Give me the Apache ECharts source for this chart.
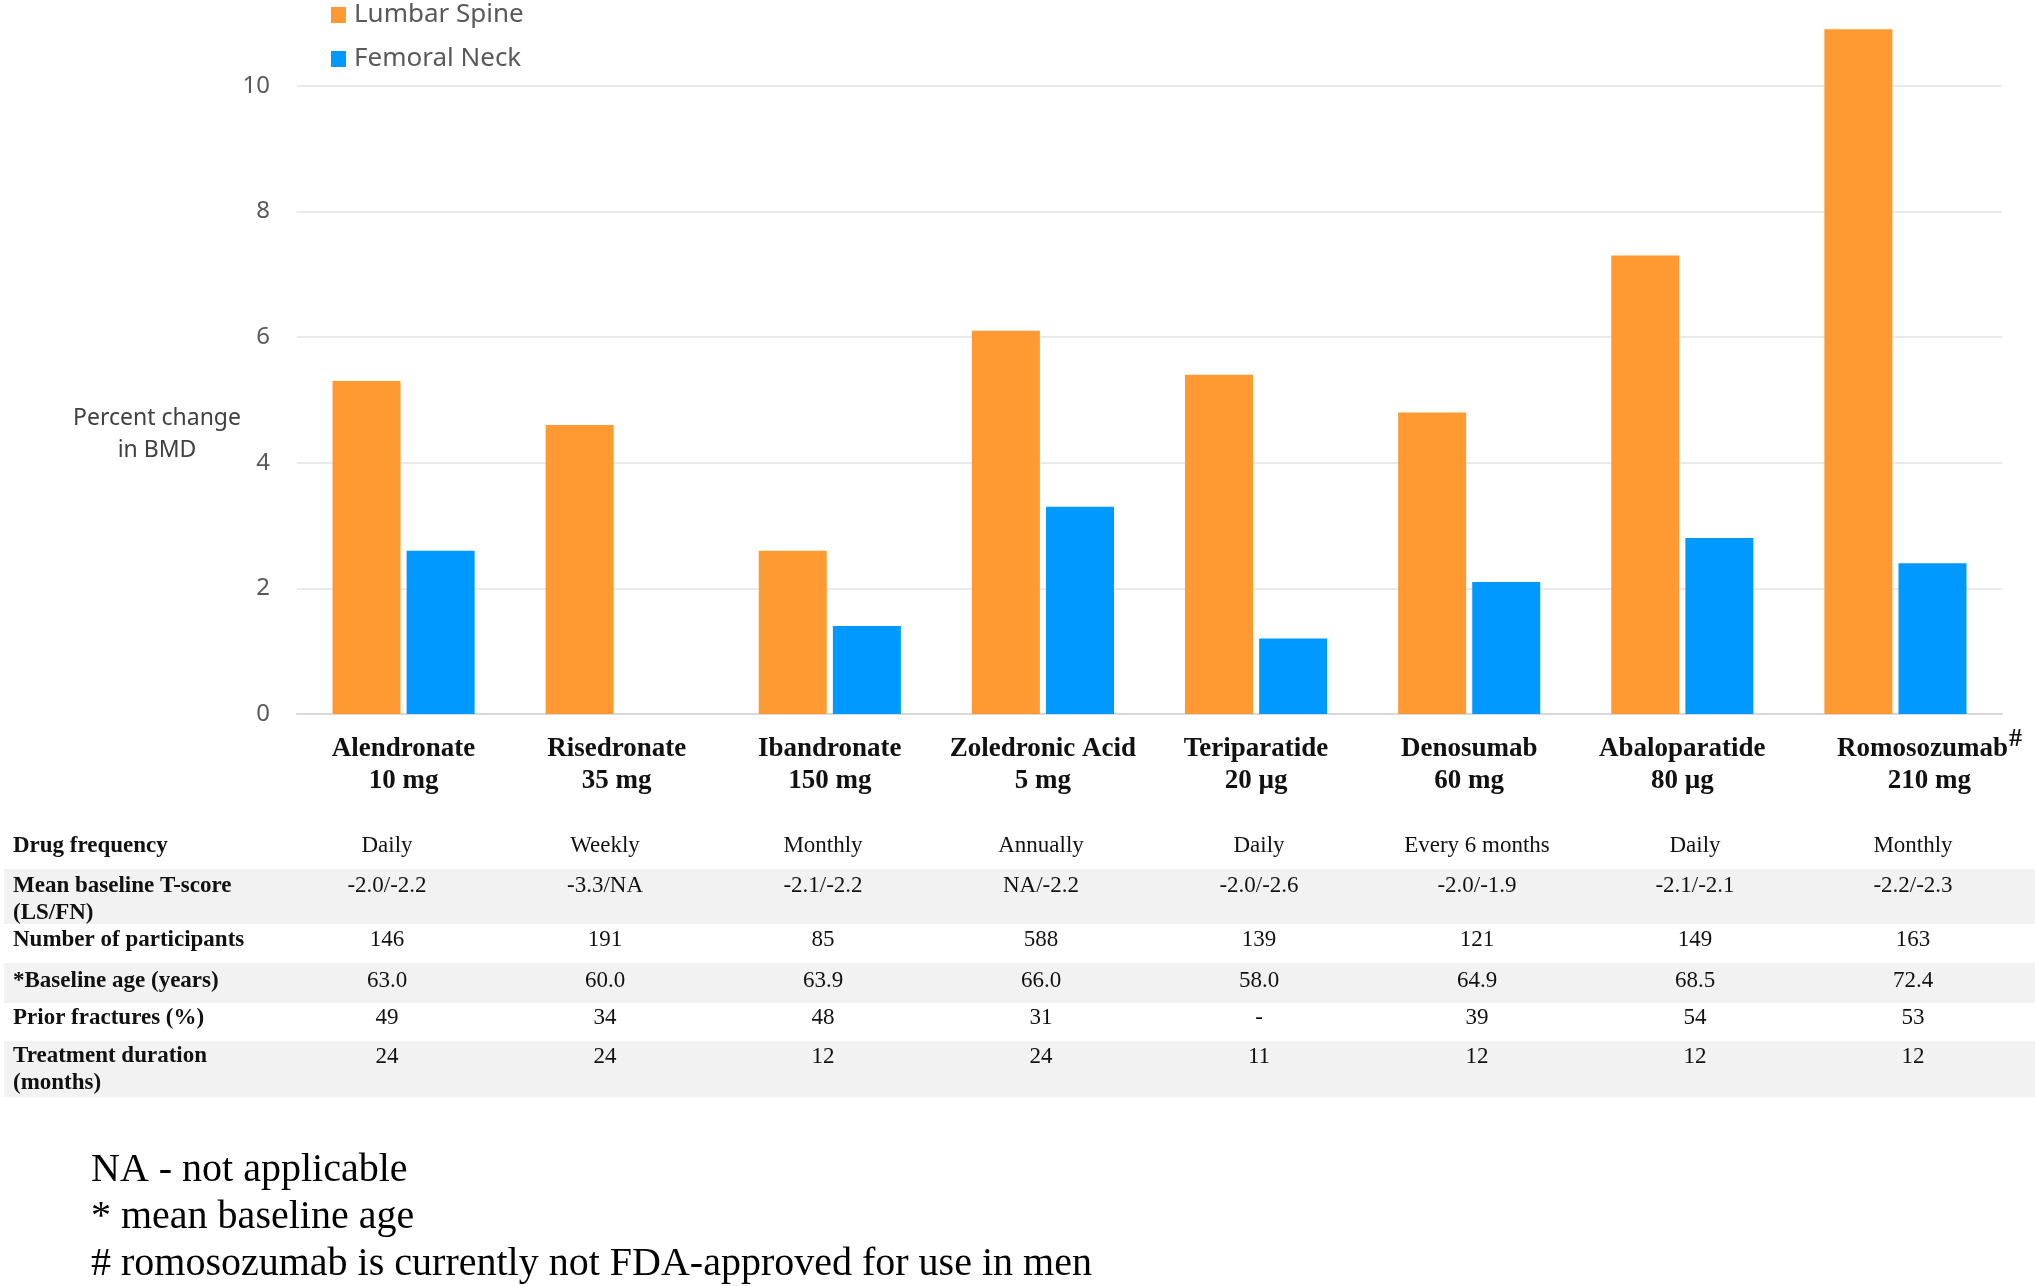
<!DOCTYPE html>
<html lang="en">
<head>
    <meta charset="UTF-8">
    <title>Percent change in BMD</title>
    <script src="https://cdn.jsdelivr.net/npm/echarts@6/dist/echarts.min.js"></script>
    <style>
        html, body { margin: 0; padding: 0; background: #fff; }
    </style>
</head>
<body>
<div id="main" style="width: 2035px;height: 1286px"></div>
<script type="text/javascript">
  var drugs = ['Alendronate', 'Risedronate', 'Ibandronate', 'Zoledronic Acid', 'Teriparatide', 'Denosumab', 'Abaloparatide', 'Romosozumab'];
  var doses = ['10 mg', '35 mg', '150 mg', '5 mg', '20 µg', '60 mg', '80 µg', '210 mg'];
  var lumbarSpine = [5.3, 4.6, 2.6, 6.1, 5.4, 4.8, 7.3, 10.9];
  var femoralNeck = [2.6, null, 1.4, 3.3, 1.2, 2.1, 2.8, 2.4];
  var yTicks = [0, 2, 4, 6, 8, 10];

  var rowNames = ['Drug frequency', 'Mean baseline T-score\n(LS/FN)', 'Number of participants',
    '*Baseline age (years)', 'Prior fractures (%)', 'Treatment duration\n(months)'];
  var frequency = ['Daily', 'Weekly', 'Monthly', 'Annually', 'Daily', 'Every 6 months', 'Daily', 'Monthly'];
  var tScore = ['-2.0/-2.2', '-3.3/NA', '-2.1/-2.2', 'NA/-2.2', '-2.0/-2.6', '-2.0/-1.9', '-2.1/-2.1', '-2.2/-2.3'];
  var participants = ['146', '191', '85', '588', '139', '121', '149', '163'];
  var baselineAge = ['63.0', '60.0', '63.9', '66.0', '58.0', '64.9', '68.5', '72.4'];
  var priorFractures = ['49', '34', '48', '31', '-', '39', '54', '53'];
  var duration = ['24', '24', '12', '24', '11', '12', '12', '12'];
  var footnotes = ['NA - not applicable', '* mean baseline age', '# romosozumab is currently not FDA-approved for use in men'];

  var serif = '"Liberation Serif", "Times New Roman", serif';
  var sans = '"Noto Sans", "Open Sans", sans-serif';

  var myChart = echarts.init(document.getElementById('main'));

  // category labels, the last one gets a superscript #
  var catData = drugs.map(function(d, i) {
    if (d === 'Romosozumab') {
      return { value: d + '{sup|#}\n' + doses[i], textStyle: { padding: [0, 0, 0, 68] } };
    }
    return d + '\n' + doses[i];
  });

  // table rows are drawn as extra category axes under the chart
  var tableRows = [frequency, tScore, participants, baselineAge, priorFractures, duration];
  var rowCenters = [846, 886, 940, 981, 1018, 1057];
  var tableAxes = tableRows.map(function(row, i) {
    return {
      type: 'category',
      gridIndex: 1,
      position: 'bottom',
      data: row,
      axisLine: { show: false },
      axisTick: { show: false },
      splitLine: { show: false },
      axisLabel: {
        interval: 0,
        margin: rowCenters[i] - 714 - 14,
        fontFamily: serif,
        fontSize: 23,
        lineHeight: 28,
        color: '#111'
      }
    };
  });

  var bands = [[869, 924], [963, 1003], [1041, 1097]];
  var graphics = bands.map(function(b) {
    return {
      type: 'rect', z: -10, silent: true,
      shape: { x: 4, y: b[0], width: 2031, height: b[1] - b[0] },
      style: { fill: '#f2f2f2' }
    };
  });
  var headerY = [846, 900, 940, 981, 1018, 1070];
  rowNames.forEach(function(name, i) {
    graphics.push({
      type: 'text', silent: true,
      x: 13, y: headerY[i],
      style: {
        text: name, fontFamily: serif, fontWeight: 'bold', fontSize: 23,
        lineHeight: 27, fill: '#111', verticalAlign: 'middle', align: 'left'
      }
    });
  });
  graphics.push({
    type: 'text', silent: true,
    x: 157, y: 434,
    style: {
      text: 'Percent change\nin BMD', fontFamily: sans, fontSize: 23, lineHeight: 32,
      fill: '#404040', align: 'center', verticalAlign: 'middle'
    }
  });
  graphics.push({
    type: 'text', silent: true,
    x: 91, y: 1147,
    style: {
      text: footnotes.join('\n'), fontFamily: serif, fontSize: 40, lineHeight: 47,
      fill: '#000', align: 'left', verticalAlign: 'top'
    }
  });

  var option = {
    backgroundColor: '#fff',
    animation: false,
    legend: {
      orient: 'vertical',
      left: 326,
      top: -3,
      itemWidth: 15,
      itemHeight: 16,
      itemGap: 18,
      icon: 'rect',
      textStyle: { fontFamily: sans, fontSize: 26, color: '#595959', padding: [0, 0, 0, 3] },
      data: ['Lumbar Spine', 'Femoral Neck']
    },
    grid: [
      { left: 297, right: 33, top: 23, bottom: 572 },
      { left: 278, right: 13, top: 23, bottom: 572 }
    ],
    xAxis: [{
      type: 'category',
      gridIndex: 0,
      data: catData,
      axisLine: { show: true, lineStyle: { color: '#d9d9d9', width: 2 } },
      axisTick: { show: false },
      axisLabel: {
        interval: 0,
        margin: 19,
        fontFamily: serif,
        fontWeight: 'bold',
        fontSize: 27,
        lineHeight: 32,
        color: '#111',
        rich: {
          sup: { fontFamily: serif, fontWeight: 'bold', fontSize: 26, lineHeight: 32, padding: [0, 0, 20, 1] }
        }
      }
    }].concat(tableAxes),
    yAxis: [{
      type: 'value',
      gridIndex: 0,
      min: yTicks[0],
      max: 11,
      interval: yTicks[1] - yTicks[0],
      axisLine: { show: false },
      axisTick: { show: false },
      axisLabel: { showMaxLabel: false, margin: 27, fontFamily: sans, fontSize: 24, color: '#595959' },
      splitLine: { showMaxLine: false, lineStyle: { color: '#e3e3e3', width: 1.5 } }
    }, {
      type: 'value',
      gridIndex: 1,
      show: false
    }],
    series: [{
      name: 'Lumbar Spine',
      type: 'bar',
      xAxisIndex: 0,
      yAxisIndex: 0,
      barWidth: 68,
      barGap: '9%',
      itemStyle: { color: '#FF9A33' },
      data: lumbarSpine
    }, {
      name: 'Femoral Neck',
      type: 'bar',
      xAxisIndex: 0,
      yAxisIndex: 0,
      barWidth: 68,
      barGap: '9%',
      itemStyle: { color: '#0099FF' },
      data: femoralNeck
    }],
    graphic: graphics
  };
  myChart.setOption(option);
</script>
</body>
</html>
